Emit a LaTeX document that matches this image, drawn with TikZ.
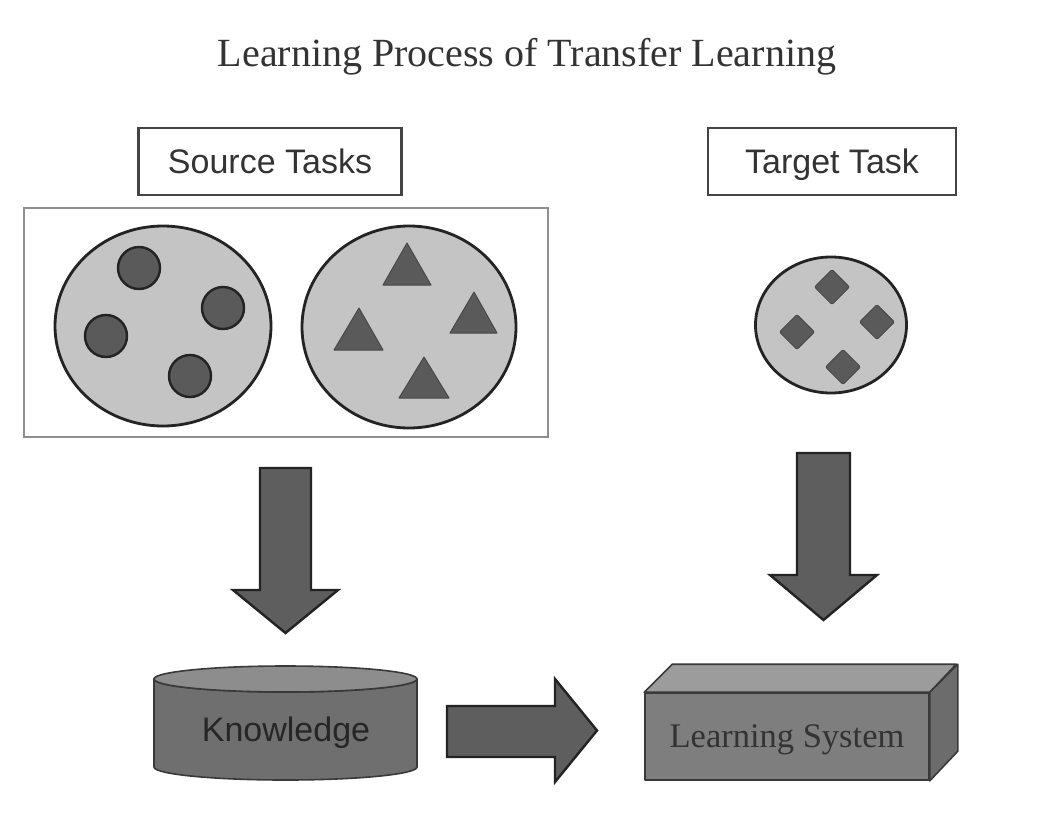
\documentclass[tikz,border=0pt]{standalone}
\usepackage{fontspec}
\setmainfont{Liberation Serif}
\setsansfont{Liberation Sans}
\usetikzlibrary{shapes.geometric}
\definecolor{lightfill}{HTML}{C4C4C4}
\definecolor{darkfill}{HTML}{5A5A5A}
\definecolor{outline}{HTML}{232323}
\definecolor{arrowfill}{HTML}{5E5E5E}
\definecolor{cylbody}{HTML}{6F6F6F}
\definecolor{cyltop}{HTML}{8D8D8D}
\definecolor{boxfront}{HTML}{7E7E7E}
\definecolor{boxtop}{HTML}{9C9C9C}
\definecolor{boxside}{HTML}{6C6C6C}
\definecolor{panelline}{HTML}{8E8E8E}
\definecolor{txt}{HTML}{333333}
\begin{document}
\begin{tikzpicture}[x=1pt,y=-1pt,
  titlestyle/.style={font=\fontsize{40}{48}\selectfont, text=txt, inner sep=0pt},
  labelbox/.style={draw=outline!85, line width=2.6pt, rectangle, inner sep=0pt, text depth=0pt,
    font=\sffamily\fontsize{34}{40}\selectfont, text=txt},
  panel/.style={draw=panelline, line width=2pt, rectangle, inner sep=0pt},
  bigdisc/.style={ellipse, draw=outline, line width=2.8pt, fill=lightfill, inner sep=0pt},
  dot/.style={circle, draw=outline, line width=2.4pt, fill=darkfill, inner sep=0pt, minimum size=42pt},
  tri/.style={fill=darkfill, draw=darkfill!80!black, line width=1pt, line join=round},
  dia/.style={fill=darkfill, draw=darkfill!80!black, line width=1pt, rounded corners=2pt},
  blockarrow/.style={fill=arrowfill, draw=outline, line width=2.4pt, line join=miter},
  solid3d/.style={draw=outline!90, line width=1.6pt, line join=round}
]
\useasboundingbox[fill=white] (0,0) rectangle (1040,819);

% title
\node[titlestyle, anchor=base] (title) at (527,66) {Learning Process of Transfer Learning};

% labels
\node[labelbox, minimum width=263pt, minimum height=67pt] (src) at (270,161.5) {Source Tasks};
\node[labelbox, minimum width=248pt, minimum height=67pt] (tgt) at (832,161.5) {Target Task};

% source panel
\node[panel, minimum width=524pt, minimum height=229pt] (panel) at (286,322.5) {};
\node[bigdisc, minimum width=216pt, minimum height=200pt] (discA) at (163,326) {};
\node[bigdisc, minimum width=214pt, minimum height=202pt] (discB) at (409,327) {};

% circles
\node[dot] (c1) at (139,268) {};
\node[dot] (c2) at (223,308) {};
\node[dot] (c3) at (106,336) {};
\node[dot] (c4) at (190,376) {};

% triangles
\path[tri] (407,243) -- (431,285) -- (383,285) -- cycle;
\path[tri] (474,292) -- (497,333) -- (450,333) -- cycle;
\path[tri] (359,308) -- (383,350) -- (334,350) -- cycle;
\path[tri] (424,357) -- (449,398) -- (399,398) -- cycle;

% target disc
\node[bigdisc, minimum width=151pt, minimum height=136pt] (discC) at (831,325) {};
\foreach \cx/\cy in {832/287, 877/322, 797/332, 843/367}{
  \path[dia] (\cx,\cy-17.5) -- (\cx+17.5,\cy) -- (\cx,\cy+17.5) -- (\cx-17.5,\cy) -- cycle;
}

% knowledge cylinder
\path[fill=cylbody, solid3d] (154,679) -- (154,767)
  arc[start angle=180, end angle=0, x radius=131.5, y radius=13] -- (417,679)
  arc[start angle=0, end angle=180, x radius=131.5, y radius=13] -- cycle;
\path[fill=cyltop, solid3d] (285.5,679) ellipse[x radius=131.5pt, y radius=13pt];
\node[font=\sffamily\fontsize{34}{40}\selectfont, text=black!85, text depth=0pt, inner sep=0pt] (know) at (286,729) {Knowledge};

% learning system box
\node[rectangle, fill=boxfront, solid3d, minimum width=284pt, minimum height=87pt, inner sep=0pt,
  text depth=0pt, font=\fontsize{34.5}{40}\selectfont, text=black!80] (ls) at (787,736.5) {Learning System};
\path[fill=boxtop, solid3d] (ls.north west) -- ++(28,-28) -- ++(284,0) -- (ls.north east) -- cycle;
\path[fill=boxside, solid3d] (ls.north east) -- ++(28,-28) -- ++(0,87) -- (ls.south east) -- cycle;

% arrows
\path[blockarrow] (260,468) -- (311,468) -- (311,590) -- (338,590) -- (285.5,633) -- (233,590) -- (260,590) -- cycle;
\path[blockarrow] (797,453) -- (850,453) -- (850,575) -- (877,575) -- (823.5,620) -- (770,575) -- (797,575) -- cycle;
\path[blockarrow] (447,706) -- (555,706) -- (555,679) -- (597,730.5) -- (555,782) -- (555,757) -- (447,757) -- cycle;
\end{tikzpicture}
\end{document}
